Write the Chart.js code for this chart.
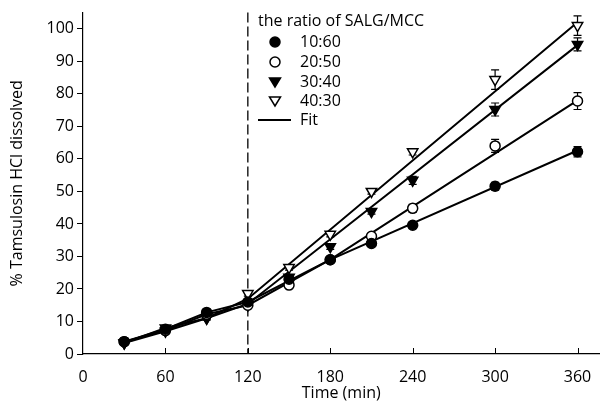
<!DOCTYPE html>
<html>
<head>
<meta charset="utf-8">
<script src="https://cdn.jsdelivr.net/npm/chart.js@4"></script>
<style>
  html, body { margin: 0; padding: 0; background: #fff; }
  #wrap { width: 607px; height: 409px; }
</style>
</head>
<body>
<div id="wrap"><canvas id="dissolution"></canvas></div>
<script>
// sampling times (min)
const times = [30, 60, 90, 120, 150, 180, 210, 240, 300, 360];

// % dissolved
const ratio1060 = [3.8, 7.6, 12.8, 16.0, 23.0, 29.0, 34.0, 39.6, 51.6, 62.2];
const ratio2050 = [3.8, 7.2, 12.2, 15.0, 21.2, 29.0, 36.2, 44.8, 64.0, 77.8];
const ratio3040 = [3.4, 7.0, 11.0, 15.0, 23.6, 33.0, 43.8, 53.4, 75.2, 95.2];
const ratio4030 = [3.4, 8.0, 11.0, 18.6, 26.6, 36.8, 50.0, 62.2, 84.4, 101.0];

// standard deviations (error bars)
const err1060 = [0.5, 0.5, 0.5, 0.8, 0.8, 0.8, 0.8, 1.0, 1.2, 1.6];
const err2050 = [0.5, 0.5, 0.5, 0.8, 0.8, 0.8, 0.8, 1.2, 2.0, 2.6];
const err3040 = [0.5, 0.5, 0.5, 0.8, 0.8, 0.8, 0.8, 1.2, 2.0, 2.0];
const err4030 = [0.5, 0.5, 0.5, 0.8, 0.8, 0.8, 0.8, 1.0, 3.0, 3.0];

// fitted lines (knots)
const fitTimes1060 = [30, 60, 90, 120, 180, 360];
const fit1060 = [3.8, 7.6, 12.8, 16.0, 29.0, 62.6];
const fitTimes2050 = [30, 60, 90, 120, 180, 360];
const fit2050 = [3.8, 7.2, 12.2, 15.0, 29.0, 78.0];
const fitTimes3040 = [30, 60, 90, 120, 360];
const fit3040 = [3.4, 7.0, 11.0, 15.4, 95.0];
const fitTimes4030 = [30, 60, 90, 120, 360];
const fit4030 = [3.4, 8.0, 11.0, 17.0, 102.0];

// tick labels
const xTicks = [0, 60, 120, 180, 240, 300, 360];
const yTicks = [0, 10, 20, 30, 40, 50, 60, 70, 80, 90, 100];

const legendTitle = 'the ratio of SALG/MCC';
const seriesLabels = ['10:60', '20:50', '30:40', '40:30'];

const FONT = '"Open Sans", "DejaVu Sans", sans-serif';
const FS = 16;

function pts(xs, ys) { return xs.map((x, i) => ({ x: x, y: ys[i] })); }

function fitSet(xs, ys) {
  return {
    type: 'line', data: pts(xs, ys), borderColor: '#000', borderWidth: 2,
    pointRadius: 0, fill: false, tension: 0, order: 2
  };
}

function markSet(label, ys, errs, style, filled) {
  return {
    type: 'line', label: label, data: pts(times, ys), errors: errs,
    showLine: false, pointStyle: style, pointRotation: style === 'triangle' ? 180 : 0,
    pointRadius: style === 'triangle' ? 6 : 5, borderColor: '#000', borderWidth: 1.5,
    pointBackgroundColor: filled ? '#000' : '#fff', order: 1
  };
}

const extras = {
  id: 'extras',
  beforeDatasetsDraw(chart) {
    const ctx = chart.ctx, x = chart.scales.x, y = chart.scales.y, a = chart.chartArea;
    ctx.save();
    // dashed line at 120 min
    const px = x.getPixelForValue(120);
    ctx.strokeStyle = '#000';
    ctx.lineWidth = 1.3;
    ctx.setLineDash([10, 4]);
    ctx.beginPath();
    ctx.moveTo(px, a.top);
    ctx.lineTo(px, a.bottom);
    ctx.stroke();
    ctx.setLineDash([]);
    // inward x ticks
    ctx.lineWidth = 1;
    xTicks.slice(1).forEach(t => {
      const tx = Math.round(x.getPixelForValue(t)) + 0.5;
      ctx.beginPath();
      ctx.moveTo(tx, a.bottom);
      ctx.lineTo(tx, a.bottom - 6);
      ctx.stroke();
    });
    // error bars
    ctx.lineWidth = 1.2;
    chart.data.datasets.forEach(ds => {
      if (!ds.errors) return;
      ds.data.forEach((p, i) => {
        const e = ds.errors[i];
        const cx = x.getPixelForValue(p.x);
        const top = y.getPixelForValue(p.y + e), bot = y.getPixelForValue(p.y - e);
        ctx.beginPath();
        ctx.moveTo(cx, top); ctx.lineTo(cx, bot);
        ctx.moveTo(cx - 4, top); ctx.lineTo(cx + 4, top);
        ctx.moveTo(cx - 4, bot); ctx.lineTo(cx + 4, bot);
        ctx.stroke();
      });
    });
    ctx.restore();
  },
  afterDraw(chart) {
    const ctx = chart.ctx;
    ctx.save();
    ctx.fillStyle = '#000';
    ctx.strokeStyle = '#000';
    ctx.font = FS + 'px ' + FONT;
    ctx.textBaseline = 'middle';
    ctx.textAlign = 'left';
    ctx.fillText(legendTitle, 258, 21);
    const mx = 275, lx = 300;
    const rows = [42, 62, 82, 101];
    const styles = [['circle', true], ['circle', false], ['triangle', true], ['triangle', false]];
    rows.forEach((ry, i) => {
      const [st, filled] = styles[i];
      ctx.lineWidth = 1.5;
      ctx.fillStyle = filled ? '#000' : '#fff';
      ctx.beginPath();
      if (st === 'circle') {
        ctx.arc(mx, ry, 5, 0, Math.PI * 2);
      } else {
        ctx.moveTo(mx - 5.5, ry - 4);
        ctx.lineTo(mx + 5.5, ry - 4);
        ctx.lineTo(mx, ry + 5);
        ctx.closePath();
      }
      ctx.fill();
      ctx.stroke();
      ctx.fillStyle = '#000';
      ctx.fillText(seriesLabels[i], lx, ry);
    });
    ctx.lineWidth = 2;
    ctx.beginPath();
    ctx.moveTo(258, 120);
    ctx.lineTo(291, 120);
    ctx.stroke();
    ctx.fillText('Fit', lx, 120);
    ctx.restore();
  }
};

new Chart('dissolution', {
  type: 'line',
  data: {
    datasets: [
      fitSet(fitTimes1060, fit1060),
      fitSet(fitTimes2050, fit2050),
      fitSet(fitTimes3040, fit3040),
      fitSet(fitTimes4030, fit4030),
      markSet(seriesLabels[0], ratio1060, err1060, 'circle', true),
      markSet(seriesLabels[1], ratio2050, err2050, 'circle', false),
      markSet(seriesLabels[2], ratio3040, err3040, 'triangle', true),
      markSet(seriesLabels[3], ratio4030, err4030, 'triangle', false)
    ]
  },
  options: {
    responsive: true,
    maintainAspectRatio: false,
    animation: false,
    layout: { padding: { top: 12, right: 2, left: 4, bottom: 2 } },
    plugins: {
      legend: { display: false },
      tooltip: { enabled: false }
    },
    scales: {
      x: {
        type: 'linear',
        min: 0, max: 376,
        border: { color: '#000', width: 1.2 },
        grid: { display: false },
        afterBuildTicks: s => { s.ticks = xTicks.map(v => ({ value: v })); },
        ticks: {
          color: '#000', padding: 6,
          font: { family: FONT, size: FS }
        },
        title: {
          display: true, text: 'Time (min)', color: '#000',
          font: { family: FONT, size: FS }, padding: { top: 0 }
        },
        afterFit: s => { s.height = 53; }
      },
      y: {
        min: 0, max: 105,
        border: { color: '#000', width: 1.2 },
        grid: { drawOnChartArea: false, drawTicks: true, tickLength: 6, color: '#000' },
        afterBuildTicks: s => { s.ticks = yTicks.map(v => ({ value: v })); },
        ticks: {
          color: '#000', padding: 3,
          font: { family: FONT, size: FS }
        },
        title: {
          display: true, text: '% Tamsulosin HCl dissolved', color: '#000',
          font: { family: FONT, size: FS }, padding: { bottom: 4 }
        },
        afterFit: s => { s.width = 79; }
      }
    }
  },
  plugins: [extras]
});
</script>
</body>
</html>
